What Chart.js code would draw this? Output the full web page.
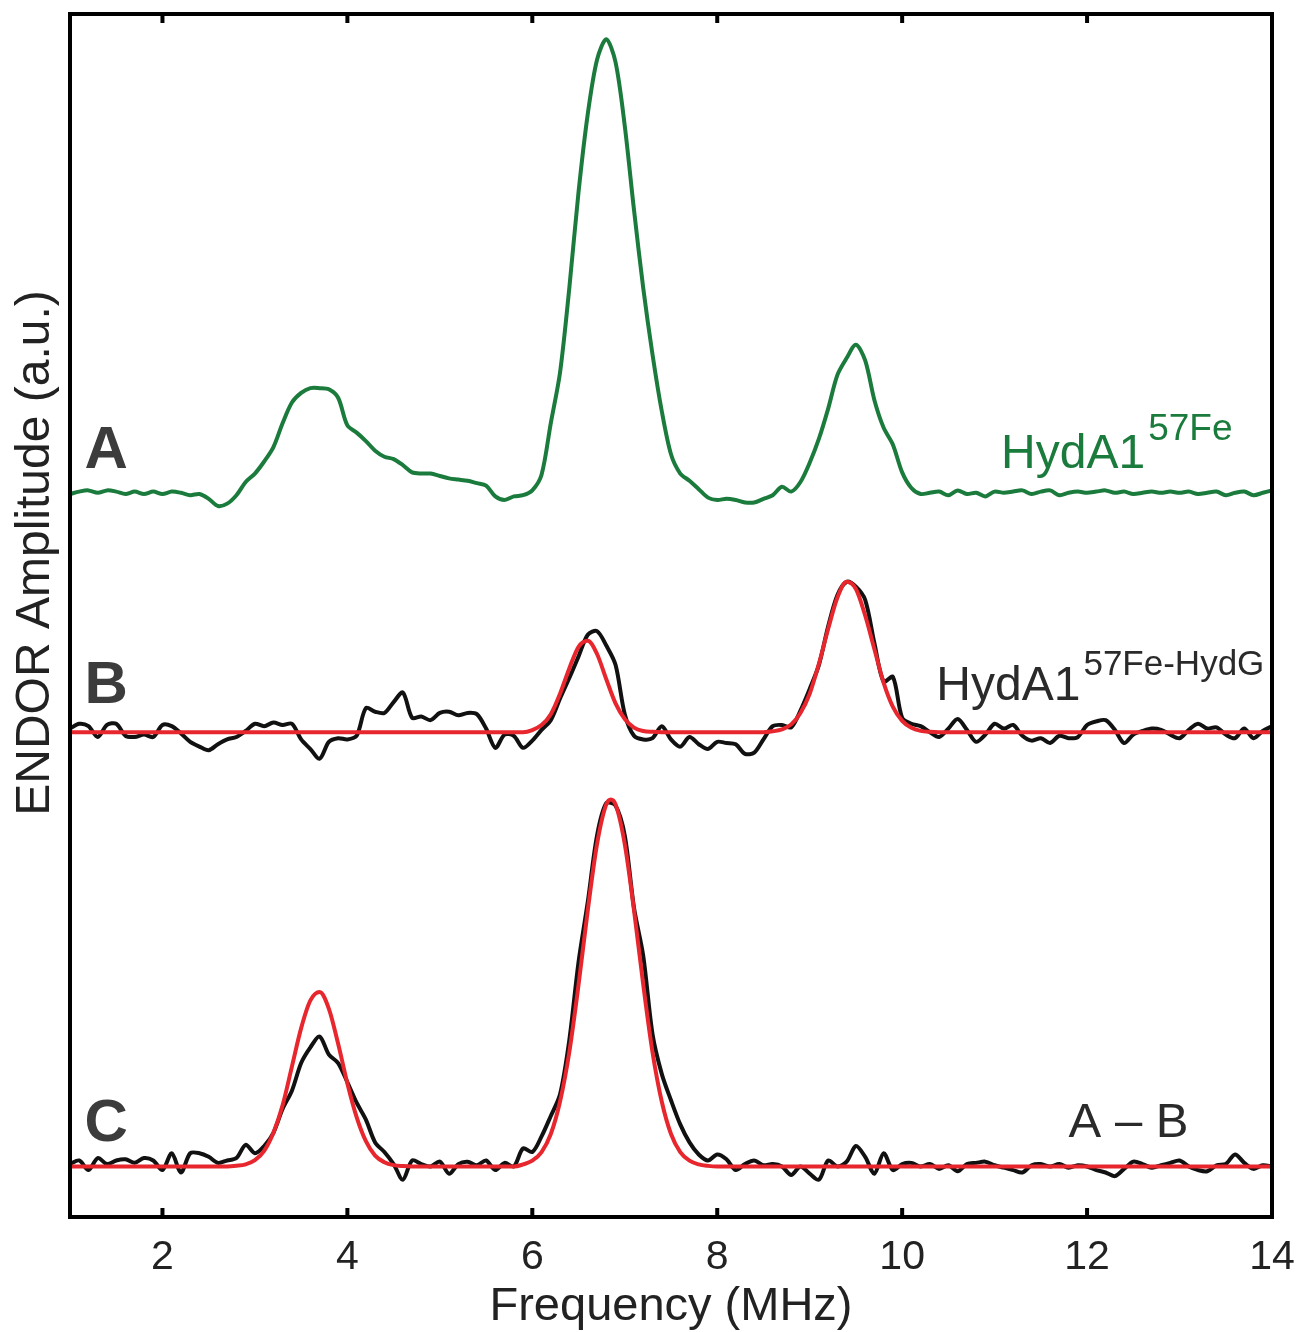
<!DOCTYPE html>
<html>
<head>
<meta charset="utf-8">
<script src="https://cdn.jsdelivr.net/npm/chart.js@4.4.0/dist/chart.umd.min.js"></script>
<style>
  body { margin: 0; background: #fff; }
  #wrap { width: 1301px; height: 1332px; }
</style>
</head>
<body>
<div id="wrap"><canvas id="myChart" width="1301" height="1332"></canvas></div>
<script>
// frequency grid (MHz) of the measured traces
var freq = [1.0,1.1,1.2,1.3,1.4,1.5,1.6,1.7,1.8,1.9,2.0,2.1,2.2,2.3,2.4,2.5,2.6,2.7,2.8,2.9,
  3.0,3.1,3.2,3.3,3.4,3.5,3.6,3.7,3.8,3.9,4.0,4.1,4.2,4.3,4.4,4.5,4.6,4.7,4.8,4.9,
  5.0,5.1,5.2,5.3,5.4,5.5,5.6,5.7,5.8,5.9,6.0,6.1,6.2,6.3,6.4,6.5,6.6,6.7,6.8,6.9,
  7.0,7.1,7.2,7.3,7.4,7.5,7.6,7.7,7.8,7.9,8.0,8.1,8.2,8.3,8.4,8.5,8.6,8.7,8.8,8.9,
  9.0,9.1,9.2,9.3,9.4,9.5,9.6,9.7,9.8,9.9,10.0,10.1,10.2,10.3,10.4,10.5,10.6,10.7,10.8,10.9,
  11.0,11.1,11.2,11.3,11.4,11.5,11.6,11.7,11.8,11.9,12.0,12.1,12.2,12.3,12.4,12.5,12.6,12.7,12.8,12.9,
  13.0,13.1,13.2,13.3,13.4,13.5,13.6,13.7,13.8,13.9,14.0];

// A: HydA1 57Fe (green)
var specA = [-0.1,0.1,0.2,0.0,0.2,0.1,-0.1,0.1,-0.1,0.1,-0.1,0.1,0.0,-0.2,-0.1,-0.5,-1.1,-0.9,-0.2,0.9,
  1.6,2.6,3.8,5.8,7.5,8.3,8.7,8.7,8.6,7.9,5.6,5.0,4.3,3.5,3.0,2.8,2.3,1.7,1.6,1.6,
  1.4,1.2,1.1,1.0,0.8,0.6,-0.3,-0.6,-0.3,-0.2,0.2,1.5,5.8,10.0,17.0,25.0,31.5,36.0,37.7,35.8,
  30.5,23.5,17.0,11.5,6.8,3.2,1.6,1.0,0.3,-0.4,-0.6,-0.5,-0.6,-0.8,-0.8,-0.5,-0.2,0.5,0.1,0.9,
  2.5,4.5,7.0,9.8,11.2,12.3,11.0,7.7,5.4,4.0,1.7,0.4,-0.1,0.0,0.1,-0.2,0.2,-0.1,0.0,-0.3,
  0.1,0.0,0.1,0.2,-0.1,0.1,0.2,-0.2,0.0,0.1,0.0,0.1,0.2,0.0,0.1,-0.1,0.0,0.1,0.0,0.1,
  0.0,0.1,-0.1,0.0,0.1,-0.2,0.0,0.1,-0.2,0.0,0.2];

// B: HydA1 57Fe-HydG (black)
var specB = [0.3,0.7,0.5,-0.4,0.6,0.7,-0.3,-0.4,-0.2,-0.4,0.6,0.5,-0.1,-0.8,-1.2,-1.5,-1.0,-0.6,-0.4,0.1,
  0.7,0.5,0.8,0.6,0.7,-0.6,-1.4,-2.2,-0.8,-0.5,-0.6,-0.3,2.0,1.7,1.6,2.5,3.3,1.2,1.3,1.0,
  1.6,1.7,1.4,1.6,1.5,0.3,-1.3,-0.2,-0.3,-1.3,-0.7,0.2,1.0,2.8,4.5,6.3,8.1,8.4,7.2,5.6,
  1.5,-0.3,-0.6,-0.5,0.5,-0.6,-1.2,-0.4,-1.0,-1.4,-0.8,-0.9,-1.0,-1.8,-1.7,-0.6,0.5,0.6,0.4,1.8,
  3.6,5.6,8.8,11.4,12.5,12.1,11.0,7.4,4.2,4.6,1.2,0.7,0.5,0.0,-0.4,0.3,1.1,0.2,-0.8,-0.2,
  0.7,0.3,0.6,-0.3,-0.7,-0.5,-0.9,-0.3,-0.5,-0.4,0.6,0.9,1.0,0.2,-0.9,-0.2,0.1,0.3,0.2,-0.2,
  -0.5,0.2,0.7,0.3,0.4,-0.2,-0.5,0.3,-0.5,0.1,0.5];

// C: A - B difference (black)
var specC = [0.2,0.5,-0.3,0.7,0.2,0.5,0.6,0.3,0.7,0.5,-0.3,1.1,-0.5,1.1,1.1,0.8,0.3,0.5,0.7,1.8,
  1.1,1.7,2.8,4.8,6.3,8.6,9.9,10.8,9.3,8.6,7.0,5.3,3.9,2.0,1.2,0.2,-1.1,0.5,0.2,0.0,
  0.4,-0.6,0.2,0.4,0.1,0.5,-0.3,0.3,0.0,1.5,1.2,2.5,4.2,6.0,10.5,17.0,22.0,27.5,30.2,30.0,
  27.5,21.5,17.5,11.0,7.7,5.5,3.5,2.0,1.0,0.5,1.0,0.6,-0.3,0.2,0.5,0.1,0.2,0.0,-0.7,0.0,
  -0.6,-1.1,0.5,0.0,0.4,1.7,0.8,-0.6,1.1,-0.3,0.2,0.3,0.0,0.2,-0.2,0.1,-0.4,0.2,0.3,0.4,
  0.1,-0.1,-0.3,-0.5,0.1,0.2,0.0,0.2,-0.1,0.1,0.0,-0.3,-0.5,-0.8,-0.2,0.4,0.2,-0.1,0.1,0.3,
  0.5,0.0,-0.3,-0.4,0.1,0.2,1.0,0.3,-0.2,0.1,0.0];

// red fits
var fitBFreq = [1.0,5.9,6.0,6.1,6.2,6.3,6.4,6.5,6.6,6.7,6.8,6.9,7.0,7.1,7.2,7.3,7.4,
  8.5,8.6,8.7,8.8,8.9,9.0,9.1,9.2,9.3,9.4,9.5,9.6,9.7,9.8,9.9,10.0,10.1,10.2,10.3,10.4,14.0];
var fitBVals = [0,0,0.18,0.59,1.5,3.2,5.3,7.1,7.6,6.5,4.4,2.4,1.1,0.38,0.1,0.03,0,
  0,0.07,0.23,0.65,1.6,3.2,5.7,8.6,11.2,12.5,11.9,9.7,6.9,4.1,2.1,0.94,0.36,0.11,0.03,0,0];

var fitCFreq = [1.0,2.7,2.8,2.9,3.0,3.1,3.2,3.3,3.4,3.5,3.6,3.7,3.8,3.9,4.0,4.1,4.2,4.3,4.4,4.5,4.6,4.7,
  5.8,5.9,6.0,6.1,6.2,6.3,6.4,6.5,6.6,6.7,6.8,6.85,6.9,7.0,7.1,7.2,7.3,7.4,7.5,7.6,7.7,7.8,7.9,8.0,14.0];
var fitCVals = [0,0,0.06,0.18,0.52,1.3,2.8,5.1,8.3,11.5,13.8,14.5,13.1,10.2,6.9,4.1,2.1,0.9,0.35,0.11,0.03,0,
  0,0.17,0.48,1.2,2.7,5.4,9.5,15.1,21.3,26.8,30.1,30.5,30.1,26.8,21.3,15.1,9.5,5.4,2.7,1.2,0.48,0.17,0.05,0,0];

var xTicks = [2,4,6,8,10,12,14];

// vertical offsets of the stacked traces
var offA = 60.2, offB = 40.3, offC = 4.2;

var GREEN = '#1b7b3c', RED = '#e8262d', INK = '#111';
var FONT = "'Liberation Sans', Arial, sans-serif";

function pts(xs, ys, off){
    return xs.map(function(f, i){ return {x: f, y: ys[i] + off}; });
}

var frame = {
    id: 'frame',
    afterDatasetsDraw: function(chart){
        var c = chart.ctx, a = chart.chartArea, x = chart.scales.x, y = chart.scales.y;
        c.save();
        c.strokeStyle = '#000';
        c.lineWidth = 4;
        c.strokeRect(a.left, a.top, a.right - a.left, a.bottom - a.top);
        xTicks.forEach(function(v){
            var px = x.getPixelForValue(v);
            c.beginPath();
            c.moveTo(px, a.bottom); c.lineTo(px, a.bottom - 9);
            c.moveTo(px, a.top); c.lineTo(px, a.top + 9);
            c.stroke();
        });

        // panel letters
        c.fillStyle = '#3c3c3c';
        c.font = 'bold 60px ' + FONT;
        c.textBaseline = 'alphabetic';
        c.textAlign = 'left';
        c.fillText('A', x.getPixelForValue(1.157), y.getPixelForValue(62.3));
        c.fillText('B', x.getPixelForValue(1.157), y.getPixelForValue(42.7));
        c.fillText('C', x.getPixelForValue(1.157), y.getPixelForValue(6.3));

        // trace names with superscripts
        function sup(txt, s, f, base, supBase, supSize, color){
            c.fillStyle = color;
            c.font = '48px ' + FONT;
            var px = x.getPixelForValue(f);
            c.fillText(txt, px, y.getPixelForValue(base));
            var w = c.measureText(txt).width;
            c.font = supSize + 'px ' + FONT;
            c.fillText(s, px + w + 3, y.getPixelForValue(supBase));
        }
        sup('HydA1', '57Fe', 11.07, 62.3, 64.6, 37, GREEN);
        sup('HydA1', '57Fe-HydG', 10.37, 43.0, 45.05, 35, '#2a2a2a');

        c.fillStyle = '#2a2a2a';
        c.font = '49px ' + FONT;
        c.fillText('A \u2013 B', x.getPixelForValue(11.8), y.getPixelForValue(6.65));

        // axis titles
        c.fillStyle = '#222';
        c.font = '47px ' + FONT;
        c.textAlign = 'center';
        c.fillText('Frequency (MHz)', (a.left + a.right) / 2, 1320);
        c.font = '48px ' + FONT;
        c.translate(49, 553);
        c.rotate(-Math.PI / 2);
        c.fillText('ENDOR Amplitude (a.u.)', 0, 0);
        c.restore();
    }
};

var ctx = document.getElementById('myChart').getContext('2d');
var chart = new Chart(ctx, {
    type: 'line',
    data: {
        datasets: [
            { data: pts(fitBFreq, fitBVals, offB), borderColor: RED, order: 0, cubicInterpolationMode: 'monotone' },
            { data: pts(fitCFreq, fitCVals, offC), borderColor: RED, order: 0, cubicInterpolationMode: 'monotone' },
            { data: pts(freq, specA, offA), borderColor: GREEN, order: 1, tension: 0.3 },
            { data: pts(freq, specB, offB), borderColor: INK, order: 1, tension: 0.3 },
            { data: pts(freq, specC, offC), borderColor: INK, order: 1, tension: 0.3 }
        ]
    },
    options: {
        responsive: false,
        animation: false,
        devicePixelRatio: 1,
        layout: { padding: { left: 70, right: 29, top: 14, bottom: 0 } },
        elements: {
            point: { radius: 0 },
            line: { borderWidth: 4, borderJoinStyle: 'round', borderCapStyle: 'round', fill: false }
        },
        plugins: { legend: { display: false }, tooltip: { enabled: false } },
        scales: {
            x: {
                type: 'linear', min: 1, max: 14,
                afterBuildTicks: function(s){ s.ticks = xTicks.map(function(v){ return {value: v}; }); },
                afterFit: function(s){ s.height = 115; s.paddingLeft = 0; s.paddingRight = 0; },
                grid: { display: false },
                border: { display: false },
                ticks: { color: '#222', padding: 8, font: { size: 41, family: FONT } }
            },
            y: { display: false, min: 0, max: 100 }
        }
    },
    plugins: [frame]
});
</script>
</body>
</html>
